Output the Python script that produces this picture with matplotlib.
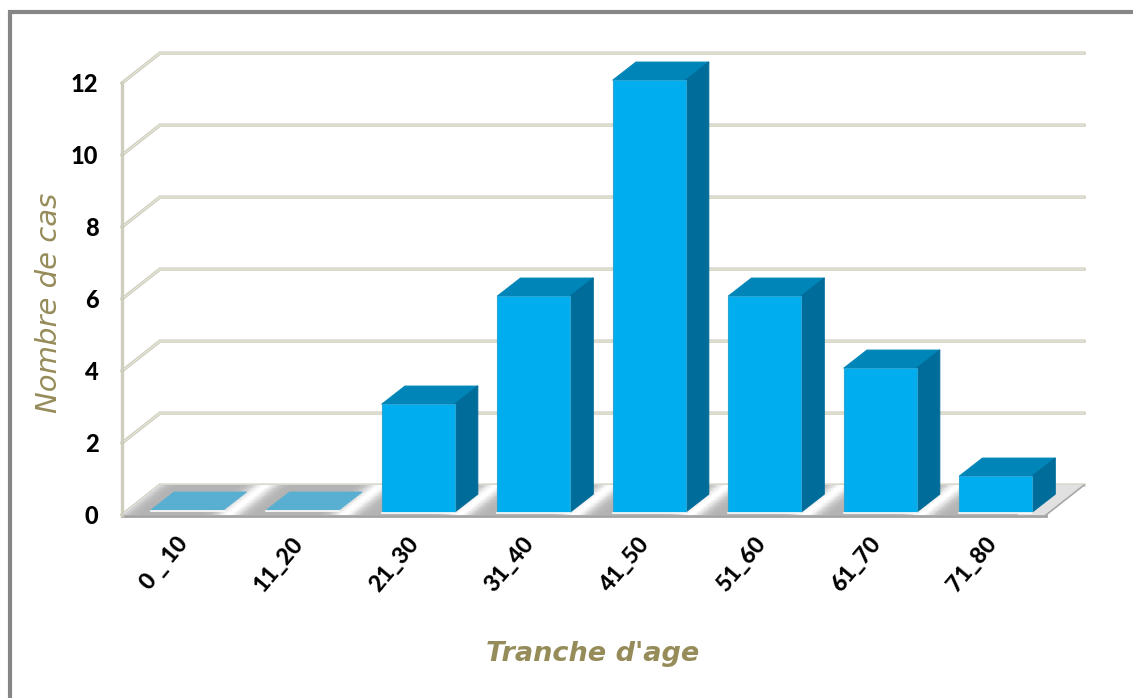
import numpy as np
import matplotlib
matplotlib.use("Agg")
import matplotlib.pyplot as plt
from matplotlib.transforms import ScaledTranslation

ageBands = ["0 _ 10", "11_20", "21_30", "31_40", "41_50", "51_60", "61_70", "71_80"]
caseCounts = [0, 0, 3, 6, 12, 6, 4, 1]
countTicks = [0, 2, 4, 6, 8, 10, 12]

# depth of the floor/gridlines and of the bars, in data units
wallDx, wallDy = 0.329, 0.83
barDx, barDy = 0.2, 0.5
barWidth = 0.63
barShift = 0.065
barBase = 0.08

frontBlue = "#00AEEF"
topBlue = "#0085B8"
sideBlue = "#006C9A"
emptyBlue = "#58AFD2"
gridColor = "#CFCDBB"
gridCore = "#ECEBE2"
titleColor = "#968C5A"

plt.rcParams['font.family'] = ['Lato', 'DejaVu Sans']

W, H = 1133, 698
fig = plt.figure(figsize=(W / 100, H / 100), dpi=100, facecolor="white")
ax = fig.add_axes([122 / W, 1 - 515 / H, (1046 - 122) / W, (515 - 83) / H])
ax.set_xlim(-0.5, 7.5)
ax.set_ylim(0, 12)
ax.patch.set_visible(False)
for side in ax.spines.values():
    side.set_visible(False)

# floor, a sheared mesh with light stripes between the bars
stripeU = np.linspace(-0.5, 7.5, 801)
stripeV = np.array([0.0, 1.0])
U, V = np.meshgrid(stripeU, stripeV)
floorX = U + V * wallDx
floorY = V * wallDy
phase = np.abs(((stripeU - 0.42 + 0.5) % 1.0) - 0.5)
shade = 0.70 + 0.30 * np.exp(-(phase / 0.11) ** 2)
shade[stripeU > 7.25] = 0.88
ax.pcolormesh(floorX, floorY, shade[:-1][None, :], cmap="gray", vmin=0, vmax=1,
              shading="flat", clip_on=False, zorder=1)
ax.plot([-0.5, 7.5], [-0.04, -0.04], color="#A3A3A3", lw=2.0, clip_on=False, zorder=1.5)
ax.plot([7.5, 7.5 + wallDx], [0, wallDy], color="#A8A8A8", lw=1.2, clip_on=False, zorder=1.5)

# back gridlines, with the short diagonal back to the left wall
for tick in countTicks:
    xs = [-0.5, -0.5 + wallDx, 7.5 + wallDx]
    ys = [tick, tick + wallDy, tick + wallDy]
    ax.plot(xs, ys, color=gridColor, lw=2.4, clip_on=False, zorder=0.5, solid_joinstyle="miter")
    ax.plot(xs, ys, color=gridCore, lw=0.7, clip_on=False, zorder=0.6, solid_joinstyle="miter")
ax.plot([-0.5, -0.5], [0, 12], color=gridColor, lw=2.4, clip_on=False, zorder=2)

# bars: front with ax.bar, top and side faces offset by the depth
positions = np.arange(len(caseCounts)) + barShift
for x, count in zip(positions, caseCounts):
    left, right = x - barWidth / 2, x + barWidth / 2
    top = count + barBase
    if count == 0:
        ax.fill([left, right, right + barDx, left + barDx],
                [top + 0.06, top + 0.06, top + 0.06 + barDy, top + 0.06 + barDy],
                color=emptyBlue, ec=emptyBlue, lw=0.5, clip_on=False, zorder=3)
        ax.plot([left, right], [top + 0.03, top + 0.03], color="white", lw=1.2, clip_on=False, zorder=3)
        continue
    ax.fill([left, right, right + barDx, left + barDx], [top, top, top + barDy, top + barDy],
            color=topBlue, ec=topBlue, lw=0.8, joinstyle="round", clip_on=False, zorder=3)
    ax.fill([right, right + barDx, right + barDx, right],
            [barBase, barBase + barDy, top + barDy, top],
            color=sideBlue, ec=sideBlue, lw=0.8, joinstyle="round", clip_on=False, zorder=3)
    ax.bar(x, count, barWidth, bottom=barBase, color=frontBlue, ec="#2AA5D6", lw=0.8,
           clip_on=False, zorder=4)
    ax.plot([left, right], [barBase - 0.03, barBase - 0.03], color="white", lw=1.2, clip_on=False, zorder=4)

ax.set_yticks(countTicks)
ax.set_yticklabels([str(t) for t in countTicks], fontsize=17, fontweight=900, color="black")
ax.set_xticks(np.arange(len(ageBands)))
ax.set_xticklabels(ageBands, fontsize=16.5, fontweight=900, color="black",
                   rotation=50, ha="right", rotation_mode="anchor")
ax.tick_params(axis="y", length=0, pad=17)
ax.tick_params(axis="x", length=0, pad=13)

# nudge the slanted labels a little to the left of their ticks
nudge = ScaledTranslation(-4 / 100, 0, fig.dpi_scale_trans)
for label in ax.get_xticklabels():
    label.set_transform(label.get_transform() + nudge)

fig.text(593 / W, 1 - 654 / H, "Tranche d'age", fontsize=19.5, fontweight="bold", fontstyle="italic",
         family="DejaVu Sans", color=titleColor, ha="center", va="center")
fig.text(49.5 / W, 1 - 303 / H, "Nombre de cas", fontsize=21, fontstyle="italic",
         family="DejaVu Sans", color=titleColor, rotation=90, ha="center", va="center")

# outer frame, only the top and left edges show
fig.add_artist(plt.Line2D([9.5 / W, 9.5 / W, 1], [0, 1 - 11.5 / H, 1 - 11.5 / H],
                          color="#868686", lw=3, solid_joinstyle="miter"))

fig.savefig("out.png", dpi=100, facecolor="white")
